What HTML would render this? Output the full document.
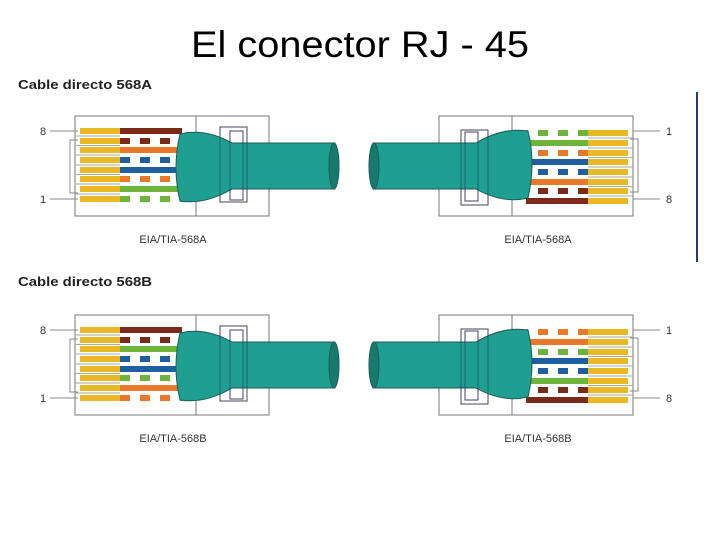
<!DOCTYPE html>
<html><head><meta charset="utf-8"><style>
html,body{margin:0;padding:0;background:#fff;}
svg{display:block;}
</style></head><body>
<svg width="720" height="540" viewBox="0 0 720 540" xmlns="http://www.w3.org/2000/svg" font-family="Liberation Sans, sans-serif">
<defs>
<pattern id="pBr" width="20" height="6" patternUnits="userSpaceOnUse" x="120"><rect width="20" height="6" fill="#fff"/><rect width="10" height="6" fill="#7a2a18"/></pattern>
<pattern id="pOr" width="20" height="6" patternUnits="userSpaceOnUse" x="120"><rect width="20" height="6" fill="#fff"/><rect width="10" height="6" fill="#e8782a"/></pattern>
<pattern id="pBl" width="20" height="6" patternUnits="userSpaceOnUse" x="120"><rect width="20" height="6" fill="#fff"/><rect width="10" height="6" fill="#1f5fa0"/></pattern>
<pattern id="pGr" width="20" height="6" patternUnits="userSpaceOnUse" x="120"><rect width="20" height="6" fill="#fff"/><rect width="10" height="6" fill="#6cb43c"/></pattern>
<g id="body">
  <rect x="75" y="116" width="194" height="100" fill="#fff" stroke="#777" stroke-width="1"/>
  <line x1="196" y1="116" x2="196" y2="216" stroke="#777"/>
  <polyline points="78,140 70,140 70,193 78,193" fill="none" stroke="#888"/>
  <g fill="#e9b925">
    <rect x="80" y="128" width="40" height="6"/><rect x="80" y="138" width="40" height="6"/>
    <rect x="80" y="147" width="40" height="6"/><rect x="80" y="157" width="40" height="6"/>
    <rect x="80" y="167" width="40" height="6"/><rect x="80" y="176" width="40" height="6"/>
    <rect x="80" y="186" width="40" height="6"/><rect x="80" y="196" width="40" height="6"/>
  </g>
  <g stroke="#aaa" stroke-width="1">
    <line x1="75" y1="136" x2="120" y2="136"/><line x1="75" y1="145.5" x2="120" y2="145.5"/>
    <line x1="75" y1="155" x2="120" y2="155"/><line x1="75" y1="165" x2="120" y2="165"/>
    <line x1="75" y1="174.5" x2="120" y2="174.5"/><line x1="75" y1="184" x2="120" y2="184"/>
    <line x1="75" y1="194" x2="120" y2="194"/>
  </g>
</g>
<g id="plug">
  <rect x="220" y="127" width="27" height="75" fill="none" stroke="#666"/>
  <rect x="230" y="131" width="13" height="69" fill="none" stroke="#666"/>
  <path d="M180,134 Q205,128 232,143 L335,143 L335,189 L232,189 Q205,205 180,201 Q172,168 180,134 Z" fill="#1f9e92" stroke="#1d5d55" stroke-width="1"/>
  <ellipse cx="334" cy="166" rx="5" ry="23" fill="#177a6e" stroke="#1d5d55"/>
  <rect x="220" y="127" width="27" height="75" fill="none" stroke="#225" stroke-opacity="0.5"/>
  <rect x="230" y="131" width="13" height="69" fill="none" stroke="#225" stroke-opacity="0.5"/>
</g>
</defs>

<text x="360" y="57" font-size="37" text-anchor="middle" fill="#000" textLength="338" lengthAdjust="spacingAndGlyphs">El conector RJ - 45</text>
<line x1="697" y1="92" x2="697" y2="262" stroke="#1f3f7a" stroke-width="2"/>

<!-- 568A -->
<text x="18" y="89" font-size="13" font-weight="bold" fill="#222" textLength="134" lengthAdjust="spacingAndGlyphs">Cable directo 568A</text>
<g id="A">
  <use href="#body"/>
  <rect x="120" y="128" width="62" height="6" fill="#7a2a18"/>
  <rect x="120" y="138" width="62" height="6" fill="url(#pBr)"/>
  <rect x="120" y="147" width="62" height="6" fill="#e8782a"/>
  <rect x="120" y="157" width="62" height="6" fill="url(#pBl)"/>
  <rect x="120" y="167" width="62" height="6" fill="#1f5fa0"/>
  <rect x="120" y="176" width="62" height="6" fill="url(#pOr)"/>
  <rect x="120" y="186" width="62" height="6" fill="#6cb43c"/>
  <rect x="120" y="196" width="62" height="6" fill="url(#pGr)"/>
  <use href="#plug"/>
</g>
<use href="#A" transform="rotate(180 354 166)"/>
<g font-size="11" fill="#333">
  <text x="40" y="135">8</text><line x1="50" y1="131" x2="78" y2="131" stroke="#888"/>
  <text x="40" y="203">1</text><line x1="50" y1="199" x2="78" y2="199" stroke="#888"/>
  <text x="666" y="135">1</text><line x1="633" y1="131" x2="660" y2="131" stroke="#888"/>
  <text x="666" y="203">8</text><line x1="633" y1="199" x2="660" y2="199" stroke="#888"/>
  <text x="173" y="243" text-anchor="middle">EIA/TIA-568A</text>
  <text x="538" y="243" text-anchor="middle">EIA/TIA-568A</text>
</g>

<!-- 568B -->
<text x="18" y="286" font-size="13" font-weight="bold" fill="#222" textLength="134" lengthAdjust="spacingAndGlyphs">Cable directo 568B</text>
<g transform="translate(0,199)">
  <g id="B">
    <use href="#body"/>
    <rect x="120" y="128" width="62" height="6" fill="#7a2a18"/>
    <rect x="120" y="138" width="62" height="6" fill="url(#pBr)"/>
    <rect x="120" y="147" width="62" height="6" fill="#6cb43c"/>
    <rect x="120" y="157" width="62" height="6" fill="url(#pBl)"/>
    <rect x="120" y="167" width="62" height="6" fill="#1f5fa0"/>
    <rect x="120" y="176" width="62" height="6" fill="url(#pGr)"/>
    <rect x="120" y="186" width="62" height="6" fill="#e8782a"/>
    <rect x="120" y="196" width="62" height="6" fill="url(#pOr)"/>
    <use href="#plug"/>
  </g>
  <use href="#B" transform="rotate(180 354 166)"/>
  <g font-size="11" fill="#333">
    <text x="40" y="135">8</text><line x1="50" y1="131" x2="78" y2="131" stroke="#888"/>
    <text x="40" y="203">1</text><line x1="50" y1="199" x2="78" y2="199" stroke="#888"/>
    <text x="666" y="135">1</text><line x1="633" y1="131" x2="660" y2="131" stroke="#888"/>
    <text x="666" y="203">8</text><line x1="633" y1="199" x2="660" y2="199" stroke="#888"/>
    <text x="173" y="243" text-anchor="middle">EIA/TIA-568B</text>
    <text x="538" y="243" text-anchor="middle">EIA/TIA-568B</text>
  </g>
</g>
</svg>
</body></html>
